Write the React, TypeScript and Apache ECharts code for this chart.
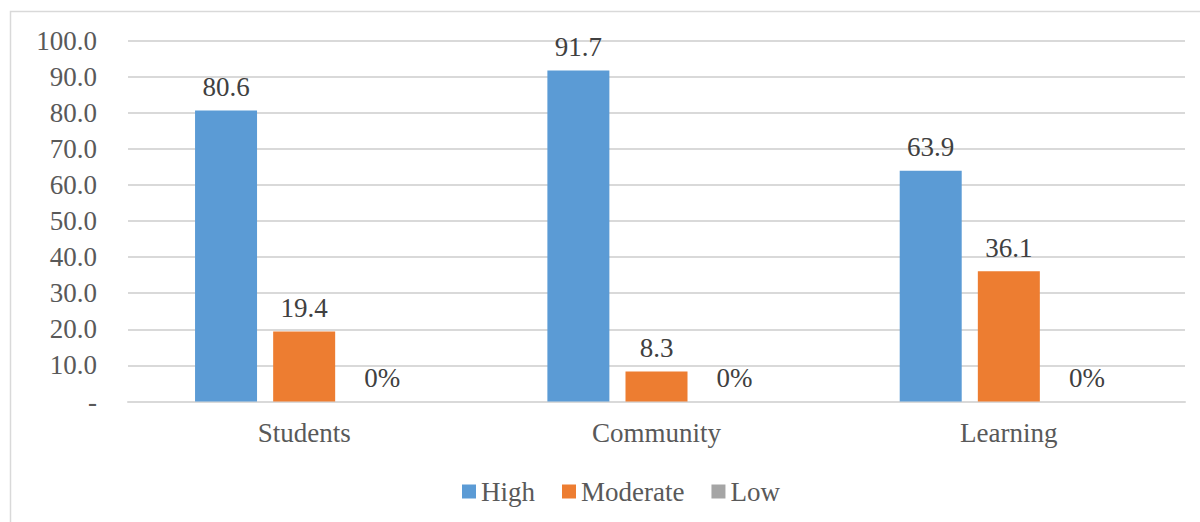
import React, { useEffect, useRef } from "react";
import * as echarts from "echarts";

const categories = ["Students", "Community", "Learning"];
const seriesNames = ["High", "Moderate", "Low"];
const highValues = [80.6, 91.7, 63.9];
const moderateValues = [19.4, 8.3, 36.1];
const lowValues = [0, 0, 0];
const colors = ["#5B9BD5", "#ED7D31", "#A5A5A5"];

const FONT = "Liberation Serif";
const TEXT = "#595959";
const FS = 27;

export default function App() {
  const ref = useRef<HTMLDivElement>(null);
  useEffect(() => {
    if (!ref.current) return;
    const chart = echarts.init(ref.current, undefined, { renderer: "svg" });
    const dataSets = [highValues, moderateValues, lowValues];
    chart.setOption({
      animation: false,
      textStyle: { fontFamily: FONT },
      graphic: [
        {
          type: "rect",
          shape: { x: 10.5, y: 11.5, width: 1300, height: 600 },
          style: { fill: "none", stroke: "#D9D9D9", lineWidth: 1.5 },
          silent: true,
        },
      ],
      grid: { left: 128, right: 15, top: 40.5, bottom: 120.5, containLabel: false },
      legend: {
        data: seriesNames,
        top: 473,
        left: 457,
        icon: "rect",
        itemWidth: 14,
        itemHeight: 14,
        itemGap: 27,
        textStyle: { fontFamily: FONT, fontSize: FS, color: TEXT },
      },
      xAxis: {
        type: "category",
        data: categories,
        axisLine: { lineStyle: { color: "#D9D9D9", width: 2 } },
        axisTick: { show: false },
        axisLabel: { fontFamily: FONT, fontSize: FS, color: TEXT, margin: 18 },
      },
      yAxis: {
        type: "value",
        min: 0,
        max: 100,
        interval: 10,
        axisLine: { show: false },
        axisTick: { show: false },
        splitLine: { lineStyle: { color: "#D9D9D9", width: 2 } },
        axisLabel: {
          fontFamily: FONT,
          fontSize: FS,
          color: TEXT,
          margin: 31,
          formatter: (v: number) => (v === 0 ? "-" : v.toFixed(1)),
        },
      },
      series: seriesNames.map((name, i) => ({
        name,
        type: "bar",
        data: dataSets[i],
        barWidth: 62,
        barGap: "26%",
        itemStyle: { color: colors[i] },
        label: {
          show: true,
          position: "top",
          distance: 10,
          fontFamily: FONT,
          fontSize: FS,
          color: "#404040",
          formatter: (p: any) => (i === 2 ? p.value + "%" : Number(p.value).toFixed(1)),
        },
      })),
    });
    return () => chart.dispose();
  }, []);
  return (
    <div
      ref={ref}
      style={{ position: "fixed", left: 0, top: 0, width: 1200, height: 522, background: "#fff" }}
    />
  );
}
